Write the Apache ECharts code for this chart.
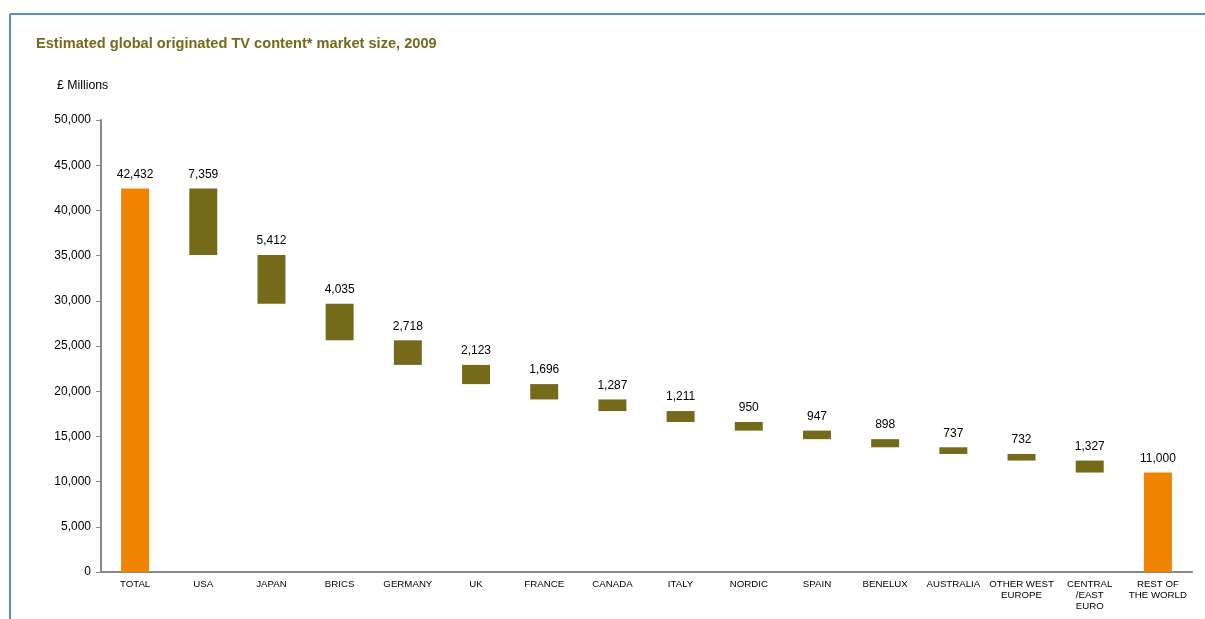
<!DOCTYPE html>
<html>
<head>
<meta charset="utf-8">
<script src="https://cdn.jsdelivr.net/npm/echarts@6/dist/echarts.min.js"></script>
<style>
  html, body { margin: 0; padding: 0; background: #fff; }
  #chart { width: 1205px; height: 619px; }
</style>
</head>
<body>
<div id="chart"></div>
<script>
// Market size by region, £ millions
const categories = ['TOTAL', 'USA', 'JAPAN', 'BRICS', 'GERMANY', 'UK', 'FRANCE', 'CANADA', 'ITALY',
  'NORDIC', 'SPAIN', 'BENELUX', 'AUSTRALIA', 'OTHER WEST\nEUROPE', 'CENTRAL\n/EAST\nEURO', 'REST OF\nTHE WORLD'];
const values = [42432, 7359, 5412, 4035, 2718, 2123, 1696, 1287, 1211, 950, 947, 898, 737, 732, 1327, 11000];
// first and last categories are totals, drawn from zero
const isTotal = [true, false, false, false, false, false, false, false, false, false, false, false, false, false, false, true];
const yTicks = [0, 5000, 10000, 15000, 20000, 25000, 30000, 35000, 40000, 45000, 50000];

const ORANGE = '#F08300';
const OLIVE = '#756A1A';

// waterfall: invisible base + visible segment
let remaining = values[0];
const base = [];
const segs = [];
values.forEach((v, i) => {
  if (isTotal[i]) {
    base.push(0);
    segs.push({ value: v, itemStyle: { color: ORANGE } });
  } else {
    remaining -= v;
    base.push(remaining);
    segs.push({ value: v, itemStyle: { color: OLIVE } });
  }
});

const chart = echarts.init(document.getElementById('chart'));
chart.setOption({
  animation: false,
  backgroundColor: '#fff',
  textStyle: { fontFamily: 'Liberation Sans, Arial, sans-serif' },
  graphic: [
    { type: 'line', shape: { x1: 10, y1: 14, x2: 1205, y2: 14 }, style: { stroke: '#5B8BD0', lineWidth: 2 } },
    { type: 'line', shape: { x1: 10, y1: 14, x2: 10, y2: 619 }, style: { stroke: '#5B8BD0', lineWidth: 2 } },
    { type: 'text', left: 36, top: 36, style: { text: 'Estimated global originated TV content* market size, 2009',
        fill: '#76691E', font: 'bold 14.6px Liberation Sans, Arial, sans-serif' } },
    { type: 'text', left: 57, top: 80, style: { text: '£ Millions', fill: '#000',
        font: '12.3px Liberation Sans, Arial, sans-serif' } }
  ],
  grid: { left: 101, right: 13, top: 120, bottom: 47, containLabel: false },
  xAxis: {
    type: 'category',
    data: categories,
    axisLine: { lineStyle: { color: '#888', width: 2 } },
    axisTick: { show: false },
    axisLabel: { interval: 0, color: '#000', fontSize: 9.7, lineHeight: 11, margin: 7 }
  },
  yAxis: {
    type: 'value',
    min: yTicks[0],
    max: yTicks[yTicks.length - 1],
    interval: yTicks[1] - yTicks[0],
    splitLine: { show: false },
    axisLine: { show: true, lineStyle: { color: '#888', width: 2 } },
    axisTick: { show: true, length: 5, lineStyle: { color: '#888', width: 1 } },
    axisLabel: {
      color: '#000', fontSize: 12, margin: 10,
      formatter: v => v.toLocaleString('en-US')
    }
  },
  series: [
    {
      type: 'bar', stack: 'w', data: base, barWidth: '41%',
      itemStyle: { color: 'transparent' }, silent: true
    },
    {
      type: 'bar', stack: 'w', data: segs, barWidth: '41%',
      label: {
        show: true, position: 'top', distance: 8, color: '#000', fontSize: 12,
        formatter: p => p.value.toLocaleString('en-US')
      }
    }
  ]
});
</script>
</body>
</html>
